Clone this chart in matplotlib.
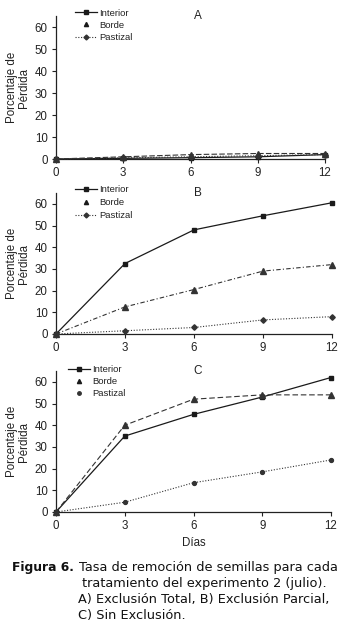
import matplotlib
matplotlib.use("Agg")
import matplotlib.pyplot as plt
from matplotlib.lines import Line2D

dias = [0, 3, 6, 9, 12]
series_names = ["Interior", "Borde", "Pastizal"]

a_interior = [0, 0.3, 0.6, 1.0, 2.0]
a_borde = [0, 1.0, 2.0, 2.5, 2.5]
a_pastizal = [0, 0.5, 1.0, 1.5, 2.0]

b_interior = [0, 32.5, 48, 54.5, 60.5]
b_borde = [0, 12.5, 20.5, 29, 32]
b_pastizal = [0, 1.5, 3, 6.5, 8]

c_interior = [0, 35, 45, 53, 62]
c_borde = [0, 40, 52, 54, 54]
c_pastizal = [0, 4.5, 13.5, 18.5, 24]

panel_labels = ["A", "B", "C"]
yticks = [0, 10, 20, 30, 40, 50, 60]

W, H = 346, 624
fig = plt.figure(figsize=(W / 100, H / 100), dpi=100)
fig.patch.set_facecolor("white")

AR = "Liberation Sans"
col = "#1a1a1a"

def fx(px):
    return px / W

def fy(py):
    return 1 - py / H

panels = [
    dict(l=56, r=325, y0=159, yt=16,
         data=(a_interior, a_borde, a_pastizal), bls=(0, (5, 2)), pm="D",
         leg=(75, 8.5), lsp=0.35, pl_line=True),
    dict(l=56, r=332, y0=334, yt=193,
         data=(b_interior, b_borde, b_pastizal), bls=(0, (4, 2, 1, 2)), pm="D",
         leg=(75, 185.5), lsp=0.4, pl_line=True),
    dict(l=56, r=331, y0=512, yt=371,
         data=(c_interior, c_borde, c_pastizal), bls=(0, (5, 2.5)), pm="o",
         leg=(68, 365.5), lsp=0.3, pl_line=False),
]

for i, p in enumerate(panels):
    ax = fig.add_axes([fx(p["l"]), fy(p["y0"]), (p["r"] - p["l"]) / W, (p["y0"] - p["yt"]) / H])
    inter, bor, pas = p["data"]
    ax.plot(dias, inter, color=col, lw=0.9, ls="-", marker="s", ms=3.5, clip_on=False, zorder=3)
    ax.plot(dias, bor, color="#333333", lw=0.8, ls=p["bls"], marker="^", ms=3.8, clip_on=False, zorder=3)
    ax.plot(dias, pas, color="#333333", lw=0.8, ls=(0, (1, 1.5)), marker=p["pm"], ms=2.8, clip_on=False, zorder=3)
    ax.set_xlim(0, 12)
    ax.set_ylim(0, 65)
    ax.set_xticks(dias)
    ax.set_yticks(yticks)
    for s in ("top", "right"):
        ax.spines[s].set_visible(False)
    for s in ("left", "bottom"):
        ax.spines[s].set_color("#222222")
        ax.spines[s].set_linewidth(0.9)
    ax.tick_params(axis="both", length=3, width=0.8, color="#222222", labelsize=8.3, pad=3)
    for t in ax.get_xticklabels() + ax.get_yticklabels():
        t.set_fontfamily(AR)
        t.set_color("#222222")
    ax.set_ylabel("Porcentaje de\nPérdida", fontsize=8.3, family=AR, color="#222222",
                  linespacing=1.0, labelpad=3)
    ax.text(fx(198), fy(p["yt"]), panel_labels[i], transform=fig.transFigure,
            fontsize=8.5, family=AR, ha="center", va="center", color="#222222")

    h1 = Line2D([], [], color=col, lw=0.9, ls="-", marker="s", ms=3)
    h2 = Line2D([], [], color=col, lw=0, marker="^", ms=3)
    if p["pl_line"]:
        h3 = Line2D([], [], color="#333333", lw=0.8, ls=(0, (1, 1.5)), marker="D", ms=2.5)
    else:
        h3 = Line2D([], [], color="#333333", lw=0, marker="o", ms=2.5)
    lx, ly = p["leg"]
    leg = ax.legend([h1, h2, h3], series_names, loc="upper left",
                    bbox_to_anchor=(fx(lx), fy(ly)), bbox_transform=fig.transFigure,
                    frameon=False, borderpad=0, borderaxespad=0, handlelength=2.3,
                    handletextpad=0.25, labelspacing=p["lsp"], numpoints=1,
                    prop={"family": AR, "size": 6.8})
    for t in leg.get_texts():
        t.set_color("#222222")

fig.text(fx(194), fy(543), "Días", fontsize=8.3, family=AR, ha="center", va="center", color="#222222")

fig.text(fx(12), fy(567), "Figura 6.", fontsize=8.9, family="DejaVu Sans",
         weight="bold", ha="left", va="center", color="#111111")
cap_lines = [
    (79, 567, "Tasa de remoción de semillas para cada"),
    (82, 583, "tratamiento del experimento 2 (julio)."),
    (78, 599, "A) Exclusión Total, B) Exclusión Parcial,"),
    (78, 615, "C) Sin Exclusión."),
]
for x, y, s in cap_lines:
    fig.text(fx(x), fy(y), s, fontsize=9.3, family="DejaVu Sans",
             ha="left", va="center", color="#111111")

fig.savefig("out.png", dpi=100, facecolor="white")
